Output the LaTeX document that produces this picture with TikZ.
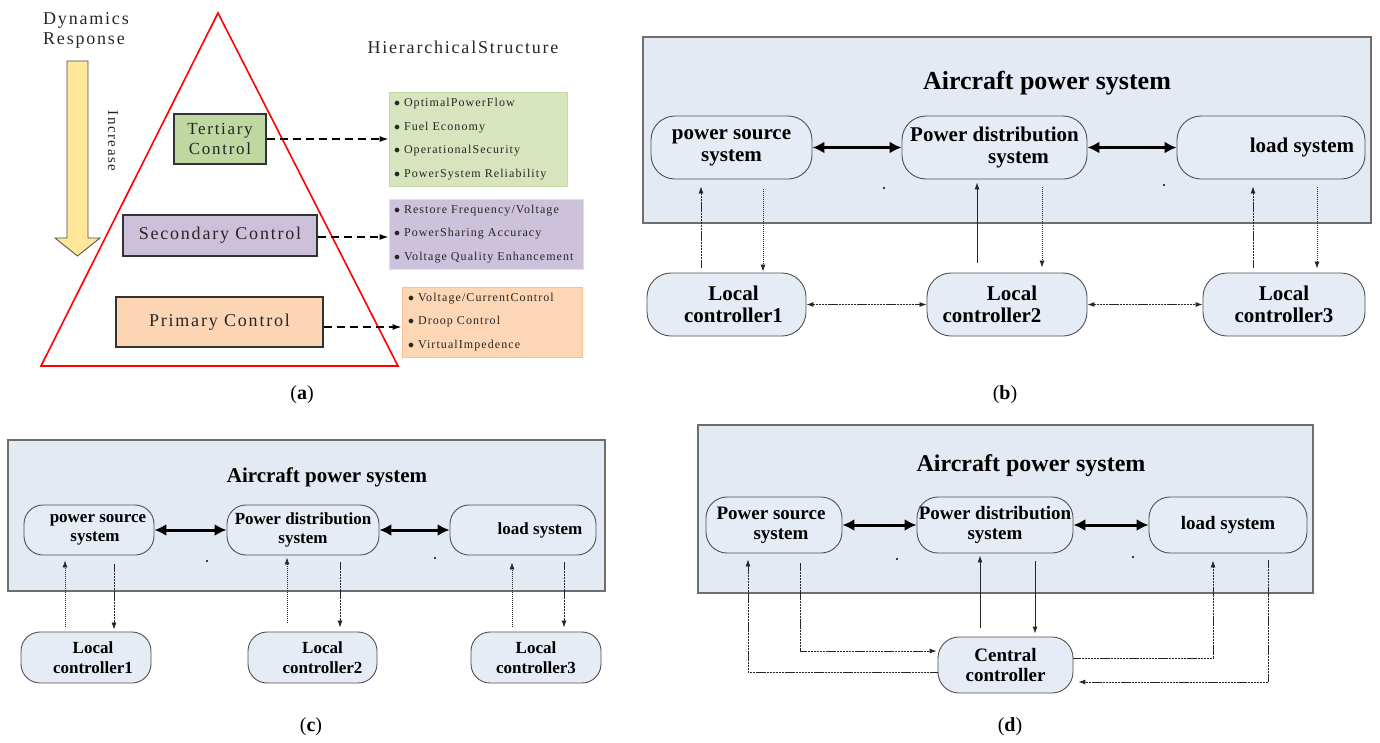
\documentclass[tikz,border=0pt]{standalone}
\usepackage{fontspec}
\setmainfont{Liberation Serif}
\newfontfamily\afont{Liberation Serif}[LetterSpace=10]
\newfontfamily\bfontA{Liberation Serif}[LetterSpace=9]
\usetikzlibrary{arrows.meta}
\definecolor{panelfill}{HTML}{E4EAF4}
\definecolor{nodefill}{HTML}{E6ECF6}
\definecolor{nodeborder}{HTML}{505050}
\definecolor{panelborder}{HTML}{6E6E6E}
\definecolor{tertfill}{HTML}{BFD8A2}
\definecolor{secfill}{HTML}{CCC0DA}
\definecolor{primfill}{HTML}{FCD5B5}
\definecolor{lonefill}{HTML}{D7E4BD}
\definecolor{lonedraw}{HTML}{C3DBA4}
\definecolor{ltwofill}{HTML}{CDC2DC}
\definecolor{ltwodraw}{HTML}{E2DCEB}
\definecolor{lthreefill}{HTML}{FDD6B6}
\definecolor{lthreedraw}{HTML}{FAC090}
\definecolor{yel}{HTML}{FFE699}
\definecolor{agray}{HTML}{262626}
\begin{document}
\begin{tikzpicture}[x=1pt,y=-1pt,
  atext/.style={font=\afont\fontsize{18}{20}\selectfont, text=agray, inner sep=0pt},
  abox/.style={draw=black!80, line width=1.3pt, inner sep=0pt, align=center, font=\afont\fontsize{18}{20}\selectfont, text=agray},
  lbox/.style={line width=0.8pt, inner xsep=5pt, inner ysep=0pt, align=left, font=\bfontA\fontsize{12}{23.7}\selectfont, text=agray},
  darr/.style={line width=1.4pt, dash pattern=on 8pt off 5pt, -{Latex[length=9pt,width=6pt]}},
  yarrow/.style={fill=yel, draw=black!70, line width=0.8pt},
  panel/.style={draw=panelborder, fill=panelfill, line width=1.2pt, inner sep=0pt},
  rnode/.style={draw=nodeborder, fill=nodefill, line width=0.9pt, inner sep=0pt, align=center},
  bnode/.style={rnode, rounded corners=24pt, minimum height=63pt, font=\bfseries\fontsize{21}{22}\selectfont},
  cnode/.style={rnode, rounded corners=19pt, minimum height=50pt, font=\bfseries\fontsize{17}{19.5}\selectfont},
  dnode/.style={rnode, rounded corners=21pt, minimum height=56pt, font=\bfseries\fontsize{19}{20}\selectfont},
  ttl/.style={inner sep=0pt, font=\bfseries\fontsize{#1}{#1}\selectfont},
  thickarr/.style={line width=#1, {Latex[length=12pt,width=12pt]}-{Latex[length=12pt,width=12pt]}},
  tarr/.style={line width=0.8pt, draw=black!85, dash pattern=on 2.2pt off 0.7pt, -{Latex[length=7pt,width=5pt]}},
  tarrs/.style={line width=0.9pt, draw=black!85, -{Latex[length=7pt,width=5pt]}},
  harr/.style={line width=0.8pt, draw=black!85, dash pattern=on 2.2pt off 0.7pt, {Latex[length=7pt,width=5pt]}-{Latex[length=7pt,width=5pt]}},
  lab/.style={inner sep=0pt, font=\fontsize{20}{20}\selectfont}
]
\useasboundingbox (0,0) rectangle (1380,742);

% ---------------- (a) ----------------
\draw[yarrow] (67,61) -- (88,61) -- (88,238) -- (100,238) -- (77.5,256) -- (55,238) -- (67,238) -- cycle;
\draw[red, line width=1.6pt, line join=miter] (218,13) -- (398,366) -- (41,366) -- cycle;
\node[atext, anchor=west, align=left] (dyn) at (43,30) {Dynamics\\Response};
\node[atext] (hier) at (463,47) {HierarchicalStructure};
\node[atext, font=\afont\fontsize{15}{15}\selectfont, rotate=-90] (inc) at (113,141) {Increase};

\node[abox, fill=tertfill, minimum width=92pt, minimum height=50pt, font=\afont\fontsize{17}{20}\selectfont] (tert) at (220,139) {Tertiary\\Control};
\node[abox, fill=secfill, minimum width=194pt, minimum height=41pt] (sec) at (220,235.5) {Secondary Control};
\node[abox, fill=primfill, minimum width=207pt, minimum height=50pt] (prim) at (219.5,322) {Primary Control};

\node[lbox, fill=lonefill, draw=lonedraw, minimum width=178pt, minimum height=94pt, text width=168pt] (l1) at (478,139)
  {$\bullet$ OptimalPowerFlow\\$\bullet$ Fuel Economy\\$\bullet$ OperationalSecurity\\$\bullet$ PowerSystem Reliability};
\node[lbox, fill=ltwofill, draw=ltwodraw, minimum width=194pt, minimum height=70pt, text width=184pt] (l2) at (486,234)
  {$\bullet$ Restore Frequency/Voltage\\$\bullet$ PowerSharing Accuracy\\$\bullet$ Voltage Quality Enhancement};
\node[lbox, fill=lthreefill, draw=lthreedraw, inner xsep=6pt, minimum width=180pt, minimum height=70pt, text width=168pt] (l3) at (492,322)
  {$\bullet$ Voltage/CurrentControl\\$\bullet$ Droop Control\\$\bullet$ VirtualImpedence};

\draw[darr] (tert.east) -- (l1.west);
\draw[darr] ([yshift=-1.5pt]sec.east) -- ([yshift=-3pt]l2.west);
\draw[darr] ([yshift=-5pt]prim.east) -- ([yshift=-5pt]l3.west);

\node[lab] (la) at (302,395) {(\textbf{a})};

% ---------------- (b) ----------------
\node[panel, minimum width=728pt, minimum height=186pt] (pb) at (1007,130) {};
\node[ttl=26] (tb) at (1047,83) {Aircraft power system};
\node[bnode, minimum width=161pt] (bps) at (731.5,147.5) {power source\\system};
\node[bnode, minimum width=185pt] (bpd) at (994.5,147.5) {Power distribution\\\hspace*{48pt}system};
\node[bnode, minimum width=188pt] (bld) at (1271,147.5) {\hspace*{62pt}load system};
\node[bnode, minimum width=159pt] (blc1) at (726.5,304.5) {\hspace*{14pt}Local\\\hspace*{14pt}controller1};
\node[bnode, minimum width=160pt] (blc2) at (1007,304.5) {\hspace*{10pt}Local\\controller2\hspace*{30pt}};
\node[bnode, minimum width=162pt] (blc3) at (1284,304.5) {Local\\controller3};
\draw[thickarr=3.5pt] (bps.east) -- (bpd.west);
\draw[thickarr=3.5pt] (bpd.east) -- (bld.west);
\draw[tarr, shorten <=5pt, shorten >=7pt] ([xshift=-25.5pt]blc1.north) -- ([xshift=-30.5pt]bps.south);
\draw[tarr, dash pattern=on 1pt off 1pt, shorten <=10pt, shorten >=1pt] ([xshift=31.5pt]bps.south) -- ([xshift=36.5pt]blc1.north);
\draw[tarrs, shorten <=10pt, shorten >=3pt] ([xshift=-30pt]blc2.north) -- ([xshift=-17.5pt]bpd.south);
\draw[tarr, dash pattern=on 1pt off 1pt, shorten <=8pt, shorten >=5pt] ([xshift=47.5pt]bpd.south) -- ([xshift=35pt]blc2.north);
\draw[tarr, shorten <=5pt, shorten >=7pt] ([xshift=-31pt]blc3.north) -- ([xshift=-18pt]bld.south);
\draw[tarr, dash pattern=on 1pt off 1pt, shorten <=8pt, shorten >=4pt] ([xshift=46pt]bld.south) -- ([xshift=33pt]blc3.north);
\draw[harr] (blc1.east) -- (blc2.west);
\draw[harr] (blc2.east) -- (blc3.west);
\fill (884,188) circle (1.1);
\fill (1164,185) circle (1.1);
\node[lab] (lb) at (1005,395) {(\textbf{b})};

% ---------------- (c) ----------------
\node[panel, minimum width=597pt, minimum height=151pt] (pc) at (306.5,515.5) {};
\node[ttl=21] (tc) at (327,477) {Aircraft power system};
\node[cnode, minimum width=130pt] (cps) at (89,530) {\hspace*{18pt}power source\\\hspace*{12pt}system};
\node[cnode, minimum width=152pt] (cpd) at (303,530) {Power distribution\\system};
\node[cnode, minimum width=146pt] (cld) at (523,530) {\hspace*{34pt}load system};
\node[cnode, minimum width=130pt, minimum height=51pt] (clc1) at (86,657.5) {\hspace*{14pt}Local\\\hspace*{14pt}controller1};
\node[cnode, minimum width=129pt, minimum height=51pt] (clc2) at (312.5,657.5) {\hspace*{20pt}Local\\\hspace*{20pt}controller2};
\node[cnode, minimum width=130pt, minimum height=51pt] (clc3) at (536,657.5) {Local\\controller3};
\draw[thickarr=3pt] (cps.east) -- (cpd.west);
\draw[thickarr=3pt] (cpd.east) -- (cld.west);
\draw[tarr, dash pattern=on 1pt off 1pt, shorten <=5pt, shorten >=5pt] ([xshift=-21pt]clc1.north) -- ([xshift=-24pt]cps.south);
\draw[tarr, shorten <=9pt, shorten >=2pt] ([xshift=25pt]cps.south) -- ([xshift=28pt]clc1.north);
\draw[tarr, dash pattern=on 1pt off 1pt, shorten <=9pt, shorten >=2pt] ([xshift=-25.5pt]clc2.north) -- ([xshift=-16pt]cpd.south);
\draw[tarr, shorten <=7pt, shorten >=4pt] ([xshift=37pt]cpd.south) -- ([xshift=27.5pt]clc2.north);
\draw[tarr, dash pattern=on 1pt off 1pt, shorten <=5pt, shorten >=7pt] ([xshift=-24pt]clc3.north) -- ([xshift=-11pt]cld.south);
\draw[tarr, shorten <=7pt, shorten >=4pt] ([xshift=41pt]cld.south) -- ([xshift=28pt]clc3.north);
\fill (207,561) circle (1.1);
\fill (435,558) circle (1.1);
\node[lab] (lc) at (311,727) {(\textbf{c})};

% ---------------- (d) ----------------
\node[panel, minimum width=615pt, minimum height=168pt] (pd) at (1005.5,509) {};
\node[ttl=24] (td) at (1031,466) {Aircraft power system};
\node[dnode, minimum width=136pt] (dps) at (774,525) {Power source\hspace*{6pt}\\\hspace*{14pt}system};
\node[dnode, minimum width=156pt] (dpd) at (995,525) {Power distribution\\system};
\node[dnode, minimum width=158pt] (dld) at (1228,525) {load system};
\node[dnode, minimum width=135pt] (dcc) at (1005.5,665) {Central\\controller};
\draw[thickarr=3pt] (dps.east) -- (dpd.west);
\draw[thickarr=3pt] (dpd.east) -- (dld.west);
\draw[tarr, shorten <=10pt, shorten >=1pt] ([xshift=26pt]dps.south) |- ([yshift=14pt]dcc.west);
\draw[tarr, shorten >=6pt] ([yshift=-7pt]dcc.west) -| ([xshift=-26pt]dps.south);
\draw[tarrs, shorten <=9pt, shorten >=2pt] ([xshift=-25.5pt]dcc.north) -- ([xshift=-15pt]dpd.south);
\draw[tarrs, shorten <=8pt, shorten >=3pt] ([xshift=40pt]dpd.south) -- ([xshift=29.5pt]dcc.north);
\draw[tarr, shorten >=7pt] ([yshift=7pt]dcc.east) -| ([xshift=-15pt]dld.south);
\draw[tarr, shorten <=7pt, shorten >=5pt] ([xshift=40pt]dld.south) |- ([yshift=-17pt]dcc.east);
\fill (897,559) circle (1.1);
\fill (1133,557) circle (1.1);
\node[lab] (ld) at (1010,727) {(\textbf{d})};
\end{tikzpicture}
\end{document}
